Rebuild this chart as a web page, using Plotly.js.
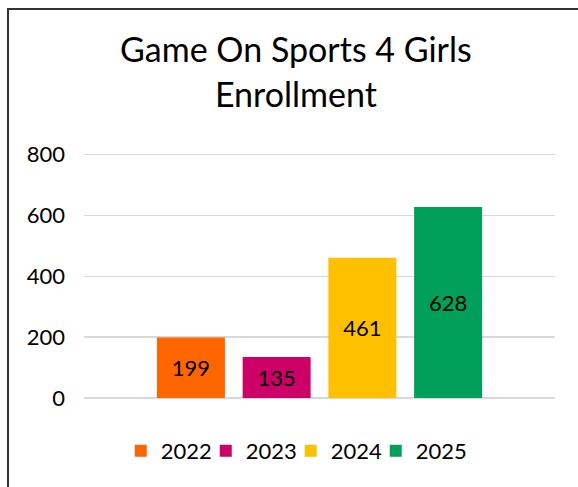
<!DOCTYPE html>
<html>
<head>
<meta charset="utf-8">
<script src="https://cdn.plot.ly/plotly-3.0.1.min.js"></script>
<style>
  body { margin: 0; background: #fff; }
  #wrap { position: relative; width: 578px; height: 487px; overflow: hidden; }
  #chart { width: 578px; height: 487px; }
  /* the chart-area frame, cut off at right and bottom like the source */
  #frame { position: absolute; left: 7px; top: 8px; width: 620px; height: 520px;
           border: 2px solid #333; pointer-events: none; }
  /* keep the last legend label from being clipped by the tight entry width */
  #chart .legend .scrollbox { clip-path: none !important; }
</style>
</head>
<body>
<div id="wrap">
  <div id="chart"></div>
  <div id="frame"></div>
</div>
<script>
// Enrollment per year
const years = ['2022', '2023', '2024', '2025'];
const enrollment = [199, 135, 461, 628];
const colors = ['#FF6600', '#CC0066', '#FFC000', '#00A05A'];

const font = 'Lato, "Open Sans", sans-serif';

const traces = years.map((yr, i) => ({
	type: 'bar',
	name: yr,
	x: [''],
	y: [enrollment[i]],
	text: [String(enrollment[i])],
	textposition: 'inside',
	insidetextanchor: 'middle',
	textfont: { family: font, size: 22, color: '#000' },
	marker: { color: colors[i] },
	hoverinfo: 'skip'
}));

const layout = {
	width: 578,
	height: 487,
	margin: { l: 84, r: 23, t: 151, b: 89 },
	paper_bgcolor: '#fff',
	plot_bgcolor: '#fff',
	font: { family: font, size: 22, color: '#000' },
	title: {
		text: 'Game On Sports 4 Girls<br>Enrollment',
		font: { family: font, size: 34, color: '#000' },
		x: 0.512,
		xref: 'container',
		xanchor: 'center',
		y: 0.872,
		yref: 'container',
		yanchor: 'top'
	},
	barmode: 'group',
	bargap: 0.272,
	bargroupgap: 0.207,
	showlegend: true,
	legend: {
		orientation: 'h',
		x: 0.503,
		xref: 'container',
		xanchor: 'center',
		y: 0.074,
		yref: 'container',
		yanchor: 'middle',
		entrywidth: 40,
		entrywidthmode: 'pixels',
		font: { family: font, size: 22, color: '#000' },
		traceorder: 'normal'
	},
	xaxis: {
		showticklabels: false,
		showgrid: false,
		zeroline: false,
		showline: false,
		fixedrange: true
	},
	yaxis: {
		range: [0, 812],
		tickvals: [0, 200, 400, 600, 800],
		showgrid: true,
		gridcolor: '#D9D9D9',
		gridwidth: 1.5,
		zeroline: true,
		zerolinecolor: '#D9D9D9',
		zerolinewidth: 1.5,
		showline: false,
		ticks: '',
		ticklabelstandoff: 18,
		tickfont: { family: font, size: 22, color: '#000' },
		fixedrange: true
	}
};

Plotly.newPlot('chart', traces, layout, { displayModeBar: false, staticPlot: true });
</script>
</body>
</html>
